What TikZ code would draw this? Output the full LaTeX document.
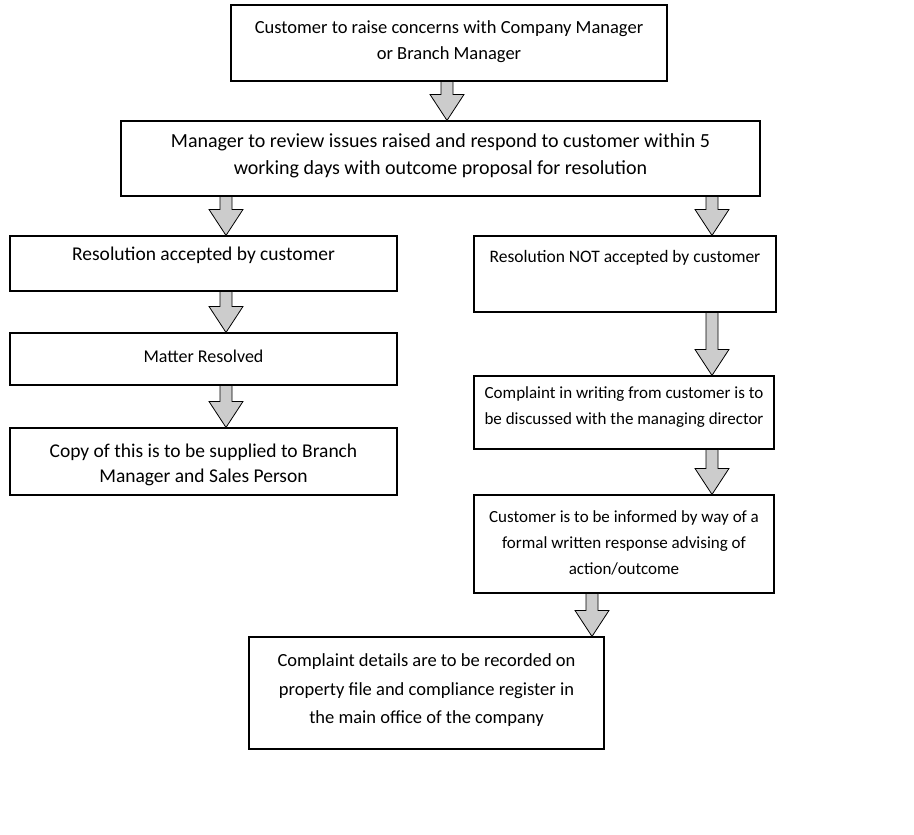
\documentclass[tikz,border=0pt]{standalone}
\usepackage{fontspec}
\setmainfont{Carlito}
\usetikzlibrary{calc}
\newcommand\bxt[4]{\parbox[c][#2][t]{#1}{\centering\vspace*{#3}#4\par}}
\tikzset{
  flowbox/.style={draw=black, line width=1.1pt, inner sep=0pt, fill=white,
    font=\fontsize{17}{26}\selectfont},
  barrow/.style={draw=black, line width=0.8pt, fill=gray!40, line join=miter},
}
% block arrow between two named points (vertical)
\newcommand\blockarrow[2]{%
  \draw[barrow] let \p1=#1, \p2=#2 in
    (\x1-6pt,\y1) -- (\x1+6pt,\y1) -- (\x1+6pt,\y2+26pt) -- (\x1+17pt,\y2+26pt)
    -- (\x1,\y2) -- (\x1-17pt,\y2+26pt) -- (\x1-6pt,\y2+26pt) -- cycle;}
\begin{document}
\begin{tikzpicture}[x=1pt,y=-1pt]
\useasboundingbox (0,0) rectangle (914,835);
\fill[white] (0,0) rectangle (914,835);

\node[flowbox, font=\fontsize{18.5}{26}\selectfont] (top) at (449,43)
  {\bxt{436pt}{76pt}{16pt}{Customer to raise concerns with Company Manager\\or Branch Manager}};
\node[flowbox, font=\fontsize{20}{27}\selectfont] (mgr) at (440.5,158.5)
  {\bxt{639pt}{75pt}{13pt}{Manager to review issues raised and respond to customer within 5\\working days with outcome proposal for resolution}};
\node[flowbox, font=\fontsize{19.5}{26}\selectfont] (acc) at (203.5,263.5)
  {\bxt{387pt}{55pt}{11pt}{Resolution accepted by customer}};
\node[flowbox, font=\fontsize{18}{26}\selectfont] (res) at (203.5,359)
  {\bxt{387pt}{52pt}{17pt}{Matter Resolved}};
\node[flowbox, font=\fontsize{19.5}{25}\selectfont] (copy) at (203.5,461.5)
  {\bxt{387pt}{67pt}{16pt}{Copy of this is to be supplied to Branch\\Manager and Sales Person}};
\node[flowbox, font=\fontsize{17.5}{26}\selectfont] (nacc) at (625,274)
  {\bxt{302pt}{76pt}{14pt}{Resolution NOT accepted by customer}};
\node[flowbox] (cw) at (624,412.5)
  {\bxt{300pt}{73pt}{11pt}{Complaint in writing from customer is to\\be discussed with the managing director}};
\node[flowbox] (inf) at (624,544)
  {\bxt{300pt}{98pt}{16pt}{Customer is to be informed by way of a\\formal written response advising of\\action/outcome}};
\node[flowbox, font=\fontsize{18.5}{28.5}\selectfont] (rec) at (426.5,693)
  {\bxt{355pt}{112pt}{17pt}{Complaint details are to be recorded on\\property file and compliance register in\\the main office of the company}};

\coordinate (xa) at (447,0);
\coordinate (xl) at (226,0);
\coordinate (xr) at (712,0);
\coordinate (xb) at (592,0);

\blockarrow{(top.south -| xa)}{(mgr.north -| xa)}
\blockarrow{(mgr.south -| xl)}{(acc.north -| xl)}
\blockarrow{(mgr.south -| xr)}{(nacc.north -| xr)}
\blockarrow{(acc.south -| xl)}{(res.north -| xl)}
\blockarrow{(res.south -| xl)}{(copy.north -| xl)}
\blockarrow{(nacc.south -| xr)}{(cw.north -| xr)}
\blockarrow{(cw.south -| xr)}{(inf.north -| xr)}
\blockarrow{(inf.south -| xb)}{(rec.north -| xb)}
\end{tikzpicture}
\end{document}
